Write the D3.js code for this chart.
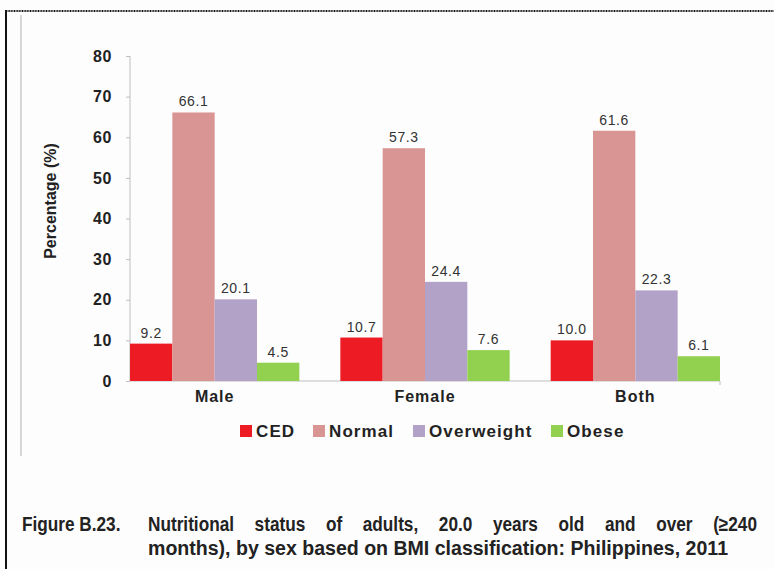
<!DOCTYPE html>
<html><head><meta charset="utf-8">
<script src="https://cdn.jsdelivr.net/npm/d3@7"></script>
<style>body{margin:0;background:#fff}svg{display:block}</style>
</head><body>
<svg id="c" width="774" height="569"></svg>
<script>
const categories = ["Male", "Female", "Both"];
const seriesNames = ["CED", "Normal", "Overweight", "Obese"];
const CED = [9.2, 10.7, 10.0];
const Normal = [66.1, 57.3, 61.6];
const Overweight = [20.1, 24.4, 22.3];
const Obese = [4.5, 7.6, 6.1];
const yTicks = [0, 10, 20, 30, 40, 50, 60, 70, 80];
const colors = ["#ed1c24", "#d99594", "#b3a2c7", "#92d050"];
const captionLine1 = ["Nutritional", "status", "of", "adults,", "20.0", "years", "old", "and", "over", "(\u2265240"];
const captionLine2 = "months), by sex based on BMI classification: Philippines, 2011";

const series = [CED, Normal, Overweight, Obese];
const FONT = "Liberation Sans, Arial, sans-serif";
const svg = d3.select("#c");
svg.append("rect").attr("width", 774).attr("height", 569).attr("fill", "#fdfdfd");

// frame
svg.append("line").attr("x1", 6).attr("x2", 774).attr("y1", 11).attr("y2", 11)
  .attr("stroke", "#111").attr("stroke-width", 2).attr("stroke-dasharray", "1,0.6");
svg.append("line").attr("x1", 6).attr("x2", 6).attr("y1", 10).attr("y2", 569)
  .attr("stroke", "#111").attr("stroke-width", 2);
svg.append("line").attr("x1", 21).attr("x2", 21).attr("y1", 15).attr("y2", 456)
  .attr("stroke", "#c8c8c8").attr("stroke-width", 1.5);

const x0 = d3.scaleBand().domain(categories).range([130, 720]).paddingInner(0.195).paddingOuter(0);
const x1 = d3.scaleBand().domain(seriesNames).range([0, x0.bandwidth()]).padding(0);
const y = d3.scaleLinear().domain([0, 80]).range([381, 56]);

// y axis
const yAxis = d3.axisLeft(y).tickValues(yTicks).tickSize(4).tickPadding(14);
const ga = svg.append("g").attr("transform", "translate(130,0)").call(yAxis);
ga.select(".domain").attr("stroke", "#bfbfbf").attr("d", "M0,56V381");
ga.selectAll(".tick line").attr("stroke", "#bfbfbf");
ga.selectAll(".tick text").attr("font-family", FONT)
  .attr("font-weight", "bold").attr("font-size", 16).attr("letter-spacing", 0.6).attr("fill", "#222");

// x axis
const gx = svg.append("g").attr("transform", "translate(0,381)")
  .call(d3.axisBottom(x0).tickSize(0).tickPadding(10));
gx.select(".domain").attr("stroke", "#bfbfbf").attr("d", "M130,0H720V4");
gx.selectAll(".tick text").attr("font-family", FONT)
  .attr("font-weight", "bold").attr("font-size", 16).attr("letter-spacing", 1).attr("fill", "#222");

// bars
const rows = [];
categories.forEach((c, i) => seriesNames.forEach((s, j) => rows.push({c, s, j, v: series[j][i]})));
svg.append("g").selectAll("rect").data(rows).join("rect")
  .attr("x", d => x0(d.c) + x1(d.s))
  .attr("y", d => y(d.v))
  .attr("width", x1.bandwidth())
  .attr("height", d => y(0) - y(d.v))
  .attr("fill", d => colors[d.j]);
svg.append("g").selectAll("text").data(rows).join("text")
  .attr("x", d => x0(d.c) + x1(d.s) + x1.bandwidth() / 2)
  .attr("y", d => y(d.v) - 6)
  .attr("text-anchor", "middle")
  .attr("font-family", FONT)
  .attr("font-size", 14).attr("letter-spacing", 0.6).attr("fill", "#333")
  .text(d => d.v.toFixed(1));

// y title
svg.append("text").attr("transform", "translate(56,201) rotate(-90)")
  .attr("text-anchor", "middle")
  .attr("font-family", FONT)
  .attr("font-weight", "bold").attr("font-size", 16).attr("fill", "#222")
  .text("Percentage (%)");

// legend
const legX = [240, 313, 413, 551];
const lg = svg.append("g");
seriesNames.forEach((s, j) => {
  lg.append("rect").attr("x", legX[j]).attr("y", 425).attr("width", 12).attr("height", 12).attr("fill", colors[j]);
  lg.append("text").attr("x", legX[j] + 16).attr("y", 437)
    .attr("font-family", FONT).attr("letter-spacing", 1.1)
    .attr("font-weight", "bold").attr("font-size", 17).attr("fill", "#222").text(s);
});

// caption
const capAttrs = sel => sel.attr("font-family", FONT).attr("font-weight", "bold")
  .attr("font-size", 20).attr("fill", "#222").attr("lengthAdjust", "spacingAndGlyphs");
const fig = svg.append("text").attr("x", 22).attr("y", 531).call(capAttrs).text("Figure B.23.");
fig.attr("textLength", fig.node().getComputedTextLength() * 0.86);
const cg = svg.append("g");
const words = cg.selectAll("text").data(captionLine1).join("text")
  .attr("y", 531).call(capAttrs).text(d => d);
const widths = [];
words.each(function(){ widths.push(this.getComputedTextLength() * 0.86); });
words.attr("textLength", (d, i) => widths[i]);
const total = d3.sum(widths);
const gap = (757 - 148 - total) / (captionLine1.length - 1);
let cx = 148;
words.attr("x", (d, i) => { const v = cx; cx += widths[i] + gap; return v; });
svg.append("text").attr("x", 148).attr("y", 555).call(capAttrs)
  .attr("textLength", 580).text(captionLine2);
</script>
</body></html>
